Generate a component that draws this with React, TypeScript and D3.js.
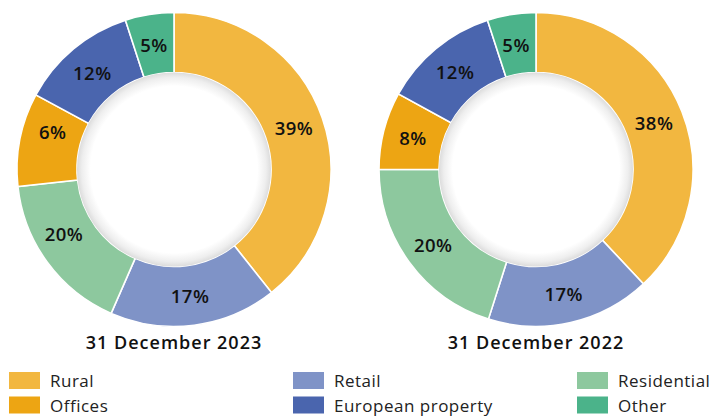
import React from "react";
import * as d3 from "d3";

const categories = ["Rural", "Retail", "Residential", "Offices", "European property", "Other"];
const colors = ["#F2B740", "#7F93C7", "#8DC89E", "#EDA513", "#4A65AE", "#4BB38A"];

const shares2023 = [39.3, 17.2, 16.7, 9.6, 12.1, 5.0];
const shares2022 = [38.0, 16.9, 20.1, 8.0, 12.0, 5.0];
// Printed percentage labels
const labels2023 = [39, 17, 20, 6, 12, 5];
const labels2022 = [38, 17, 20, 8, 12, 5];

const titles = ["31 December 2023", "31 December 2022"];
// legend laid out row by row, three columns
const legendOrder = [0, 1, 2, 3, 4, 5];

const W = 715;
const H = 416;
const R_OUT = 157;
const R_IN = 97;
const FONT = "'Open Sans', 'Noto Sans', sans-serif";

function Donut({ cx, cy, shares, labels, title, id }: any) {
  const pie = d3.pie<number>().sort(null).value((d) => d);
  const arcs = pie(shares);
  const labelArcs = pie(labels);
  const arc = d3.arc<any>().innerRadius(R_IN).outerRadius(R_OUT);
  const labelArc = d3.arc<any>().innerRadius(R_IN).outerRadius(R_OUT);
  return (
    <g transform={`translate(${cx},${cy})`}>
      <defs>
        <radialGradient id={`hole-${id}`} cx="0" cy="0" r={R_IN} gradientUnits="userSpaceOnUse">
          <stop offset="0.86" stopColor="#ffffff" />
          <stop offset="0.95" stopColor="#eeeeee" />
          <stop offset="1" stopColor="#dcdcdc" />
        </radialGradient>
      </defs>
      {arcs.map((a, i) => (
        <path key={i} d={arc(a) as string} fill={colors[i]} stroke="#ffffff" strokeWidth={1.6} />
      ))}
      <circle r={R_IN} fill={`url(#hole-${id})`} />
      {labelArcs.map((a, i) => {
        const [x, y] = labelArc.centroid(a);
        return (
          <text
            key={i}
            x={x}
            y={y}
            textAnchor="middle"
            dominantBaseline="central"
            fontFamily={FONT}
            fontWeight={600}
            fontSize={18.5}
            letterSpacing={0.5}
            fill="#111"
          >
            {`${labels[i]}%`}
          </text>
        );
      })}
      <text
        x={0}
        y={R_OUT + 15}
        textAnchor="middle"
        dominantBaseline="central"
        fontFamily={FONT}
        fontWeight={600}
        fontSize={18}
        letterSpacing={1}
        fill="#111"
      >
        {title}
      </text>
    </g>
  );
}

export default function App() {
  const colX = [9, 293, 577];
  const rowY = [380.5, 405];
  return (
    <svg
      width={W}
      height={H}
      viewBox={`0 0 ${W} ${H}`}
      style={{ position: "absolute", left: 0, top: 0, background: "#fff" }}
    >
      <Donut cx={174} cy={169.5} shares={shares2023} labels={labels2023} title={titles[0]} id="a" />
      <Donut cx={536} cy={169.5} shares={shares2022} labels={labels2022} title={titles[1]} id="b" />
      {legendOrder.map((ci, k) => {
        const col = k % 3;
        const row = Math.floor(k / 3);
        const x = colX[col];
        const y = rowY[row];
        return (
          <g key={ci}>
            <rect x={x} y={y - 8.5} width={31} height={17} fill={colors[ci]} />
            <text
              x={x + 41}
              y={y}
              dominantBaseline="central"
              fontFamily={FONT}
              fontWeight={400}
              fontSize={17}
              letterSpacing={0.5}
              fill="#222"
            >
              {categories[ci]}
            </text>
          </g>
        );
      })}
    </svg>
  );
}
